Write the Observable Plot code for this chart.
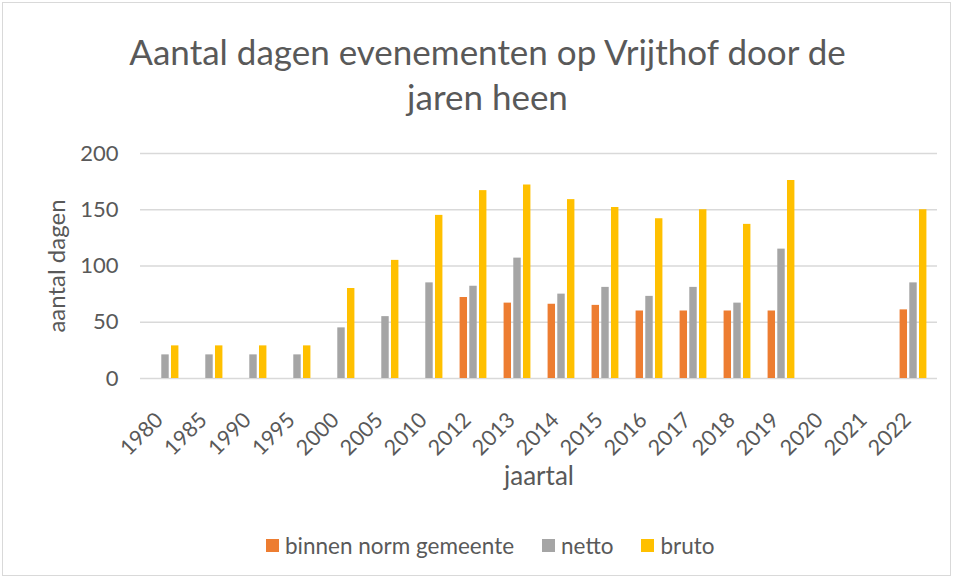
<!DOCTYPE html>
<html>
<head>
<meta charset="utf-8">
<script src="https://cdn.jsdelivr.net/npm/d3@7"></script>
<script src="https://cdn.jsdelivr.net/npm/@observablehq/plot@0.6"></script>
<style>
  html, body { margin: 0; padding: 0; background: #fff; }
  #chart { position: relative; width: 955px; height: 579px; overflow: hidden; font-family: Lato, "Open Sans", sans-serif; color: #595959; }
  #border { position: absolute; left: 2px; top: 2px; width: 947px; height: 572px; border: 1px solid #d9d9d9; }
  #title { position: absolute; left: 0; width: 975px; top: 29px; text-align: center; font-size: 35px; line-height: 45px; font-weight: 400; color: #595959; }
  #plot { position: absolute; left: 0; top: 130px; }
  #legend { position: absolute; left: 266px; top: 532px; display: flex; align-items: center; font-size: 22.5px; color: #595959; white-space: nowrap; }
  .item { display: flex; align-items: center; margin-right: 28px; }
  .sw { width: 13px; height: 13px; margin-right: 6px; }
</style>
</head>
<body>
<div id="chart">
  <div id="border"></div>
  <div id="title">Aantal dagen evenementen op Vrijthof door de<br>jaren heen</div>
  <div id="plot"></div>
  <div id="legend"></div>
</div>
<script>
const years = ["1980","1985","1990","1995","2000","2005","2010","2012","2013","2014","2015","2016","2017","2018","2019","2020","2021","2022"];
const binnenNorm = [null,null,null,null,null,null,null,72,67,66,65,60,60,60,60,null,null,61];
const netto = [21,21,21,21,45,55,85,82,107,75,81,73,81,67,115,null,null,85];
const bruto = [29,29,29,29,80,105,145,167,172,159,152,142,150,137,176,null,null,150];
const seriesNames = ["binnen norm gemeente","netto","bruto"];
const seriesColors = ["#ED7D31","#A5A5A5","#FFC000"];
const yTicks = [0,50,100,150,200];

const seriesValues = [binnenNorm, netto, bruto];
const W = 955, H = 370, mL = 140, mR = 18, mT = 23, mB = 122;
const bw = (W - mL - mR) / years.length;
const barW = 7.7, step = 9.7;

const marks = [
  Plot.ruleY(yTicks, {stroke: "#d9d9d9", strokeWidth: 1.3})
];
seriesValues.forEach((vals, i) => {
  const rows = years.map((y, j) => ({year: y, value: vals[j]})).filter(d => d.value != null);
  const off = (i - 1) * step;
  marks.push(Plot.barY(rows, {
    x: "year", y: "value", fill: seriesColors[i],
    insetLeft: bw / 2 + off - barW / 2,
    insetRight: bw / 2 - off - barW / 2
  }));
});
marks.push(Plot.text(["jaartal"], {frameAnchor: "bottom", dy: 106, fontSize: 26, fill: "#595959", textAnchor: "middle"}));
marks.push(Plot.text(["aantal dagen"], {frameAnchor: "left", dx: -83, rotate: -90, fontSize: 24, fill: "#595959", textAnchor: "middle"}));

const svg = Plot.plot({
  width: W, height: H,
  marginLeft: mL, marginRight: mR, marginTop: mT, marginBottom: mB,
  style: {fontFamily: "Lato, 'Open Sans', sans-serif", color: "#595959", background: "transparent"},
  x: {type: "band", domain: years, padding: 0, tickSize: 0, tickPadding: 25, tickRotate: -45, label: null},
  y: {domain: [0, 200], ticks: yTicks, tickSize: 0, tickPadding: 22, label: null},
  marks
});
svg.querySelectorAll("g[aria-label='x-axis tick label']").forEach(g => {
  g.setAttribute("font-size", 21.5); g.setAttribute("fill", "#595959");
  const t = g.getAttribute("transform") || "";
  g.setAttribute("transform", (t + " translate(-6,13)").trim());
});
svg.querySelectorAll("g[aria-label='y-axis tick label']").forEach(g => { g.setAttribute("font-size", 22); g.setAttribute("fill", "#595959"); });
document.getElementById("plot").appendChild(svg);

const legend = document.getElementById("legend");
seriesNames.forEach((n, i) => {
  const it = document.createElement("div"); it.className = "item";
  const sw = document.createElement("div"); sw.className = "sw"; sw.style.background = seriesColors[i];
  const tx = document.createElement("span"); tx.textContent = n;
  it.appendChild(sw); it.appendChild(tx); legend.appendChild(it);
});
</script>
</body>
</html>
